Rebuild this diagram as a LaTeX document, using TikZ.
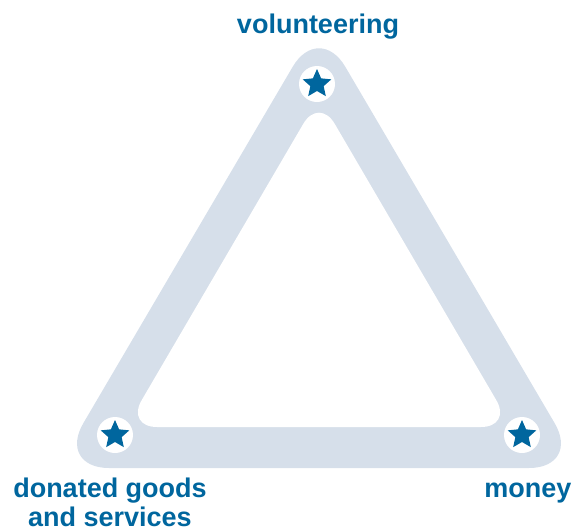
\documentclass[tikz,border=0pt]{standalone}
\usepackage{fontspec}
\setmainfont{Liberation Sans}
\definecolor{bandblue}{HTML}{D6DFEA}
\definecolor{inkblue}{HTML}{00669E}
\tikzset{
  disc/.style={circle, fill=white, minimum size=36pt, inner sep=0pt},
  % five-pointed star, one point up (y axis runs downward)
  starmark/.pic={
    \fill[inkblue] (-90:15) -- (-54:7) -- (-18:15) -- (18:7)
      -- (54:15) -- (90:7) -- (126:15) -- (162:7)
      -- (198:15) -- (234:7) -- cycle;
  },
  label/.style={text=inkblue, font=\fontsize{27}{29}\selectfont\bfseries,
                inner sep=0pt, anchor=base},
}
\begin{document}
\begin{tikzpicture}[x=1pt, y=-1pt]
  \useasboundingbox (0,0) rectangle (574,531);

  % rounded triangular band
  \fill[bandblue, rounded corners=52pt] (57,468) -- (581,468) -- (319,22) -- cycle;
  \fill[white, rounded corners=31pt] (126,427) -- (512,427) -- (319,97) -- cycle;

  % corner markers
  \node[disc] (topdisc) at (317,84) {};
  \pic (topstar) at (topdisc.center) {starmark};
  \node[disc] (leftdisc) at (115,435) {};
  \pic (leftstar) at (leftdisc.center) {starmark};
  \node[disc] (rightdisc) at (522,435) {};
  \pic (rightstar) at (rightdisc.center) {starmark};

  % labels
  \node[label] (vol) at (318,33) {volunteering};
  \node[label, align=center] (goods) at (110,526) {donated goods\\and services};
  \node[label] (money) at (528,497) {money};
\end{tikzpicture}
\end{document}
